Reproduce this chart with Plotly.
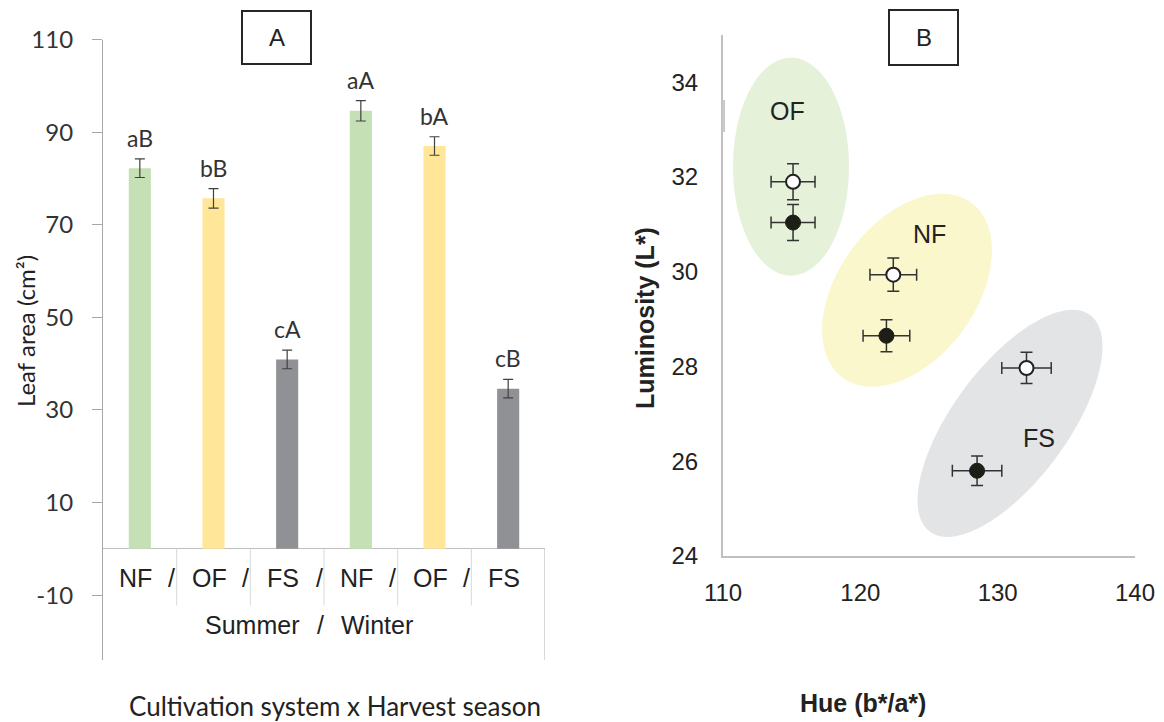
import numpy as np
import plotly.graph_objects as go

# ---------------- data ----------------
systems = ["NF", "OF", "FS", "NF", "OF", "FS"]
seasons = ["Summer", "Winter"]
leaf_area = [82.2, 75.7, 40.9, 94.6, 87.0, 34.6]
leaf_err = [2.0, 2.1, 2.0, 2.2, 2.0, 2.0]
letters = ["aB", "bB", "cA", "aA", "bA", "cB"]
bar_colors = ["#c5e0b4", "#ffe699", "#909195", "#c5e0b4", "#ffe699", "#909195"]

groups = ["OF", "NF", "FS"]
hue_open = [115.1, 122.4, 132.1]
lum_open = [31.90, 29.94, 27.97]
hue_open_err = [1.6, 1.7, 1.8]
lum_open_err = [0.38, 0.35, 0.33]
hue_filled = [115.1, 121.9, 128.5]
lum_filled = [31.04, 28.65, 25.80]
hue_filled_err = [1.6, 1.7, 1.8]
lum_filled_err = [0.38, 0.34, 0.31]

A_yticks = [-10, 10, 30, 50, 70, 90, 110]
B_xticks = [110, 120, 130, 140]
B_yticks = [24, 26, 28, 30, 32, 34]

# group ellipses: centre (data), semi-axes (px), rotation (deg)
ell_center = {"OF": (114.95, 32.22), "NF": (123.4, 29.61), "FS": (130.9, 26.8)}
ell_axes = {"OF": (109, 58), "NF": (108.6, 68.8), "FS": (134.7, 57.4)}
ell_angle = {"OF": 90, "NF": 53.6, "FS": 53.5}
ell_color = {"OF": "#e6f1da", "NF": "#fbf7cc", "FS": "#e3e4e6"}
grp_label_pos = {"OF": (114.7, 33.4), "NF": (125.05, 30.79), "FS": (133.0, 26.5)}

# ---------------- layout geometry ----------------
W, H = 1164, 722
def px(x):
    return x / W
def py(y):
    return 1 - y / H

A_x0, A_x1 = 103, 545
A_ytop, A_ybot = 39.5, 660
A_range = [-24.0, 110]
B_x0, B_x1 = 723, 1135
B_ytop, B_ybot = 35, 556
B_xrange = [110, 140]
B_yrange = [24, 35]

fontA = "Lato, 'Open Sans', sans-serif"
fontB = "'Liberation Sans', Arial, sans-serif"

fig = go.Figure()

xcat = list(range(len(systems)))
fig.add_trace(go.Bar(
    x=xcat, y=leaf_area, width=0.3,
    marker=dict(color=bar_colors, line=dict(width=0)),
    error_y=dict(type="data", array=leaf_err, color="#404040", thickness=1.2, width=5),
    xaxis="x", yaxis="y", showlegend=False,
))

fig.add_trace(go.Scatter(
    x=hue_filled, y=lum_filled, mode="markers",
    marker=dict(size=15, color="#1d1f17", line=dict(color="#1d1f17", width=1)),
    error_x=dict(type="data", array=hue_filled_err, color="#333333", thickness=1.5, width=6),
    error_y=dict(type="data", array=lum_filled_err, color="#333333", thickness=1.5, width=6),
    xaxis="x2", yaxis="y2", showlegend=False,
))
fig.add_trace(go.Scatter(
    x=hue_open, y=lum_open, mode="markers",
    marker=dict(size=14, color="white", line=dict(color="#222222", width=2)),
    error_x=dict(type="data", array=hue_open_err, color="#333333", thickness=1.5, width=6),
    error_y=dict(type="data", array=lum_open_err, color="#333333", thickness=1.5, width=6),
    xaxis="x2", yaxis="y2", showlegend=False,
))

shapes = []
annotations = []

def ann(**kw):
    kw.setdefault("showarrow", False)
    kw.setdefault("xanchor", "center")
    kw.setdefault("yanchor", "middle")
    annotations.append(kw)

# ellipses in panel B
xs = (B_x1 - B_x0) / (B_xrange[1] - B_xrange[0])
ys = (B_ybot - B_ytop) / (B_yrange[1] - B_yrange[0])
t = np.linspace(0, 2 * np.pi, 121)
for g in groups:
    cx, cy = ell_center[g]
    a, b = ell_axes[g]
    th = np.radians(ell_angle[g])
    ex = cx + (a * np.cos(th) * np.cos(t) - b * np.sin(th) * np.sin(t)) / xs
    ey = cy + (a * np.sin(th) * np.cos(t) + b * np.cos(th) * np.sin(t)) / ys
    path = "M " + " L ".join(f"{u:.4f},{v:.4f}" for u, v in zip(ex, ey)) + " Z"
    shapes.append(dict(type="path", path=path, xref="x2", yref="y2",
                       fillcolor=ell_color[g], line=dict(width=0), layer="below"))
    lx, ly = grp_label_pos[g]
    ann(x=lx, y=ly, xref="x2", yref="y2", text=g,
        font=dict(family=fontB, size=25, color="#222222"))

# category box in panel A
for i in range(len(systems) - 1):
    shapes.append(dict(type="line", xref="x", yref="y", x0=i + 0.5, x1=i + 0.5,
                       y0=0, y1=-12.2, line=dict(color="#d9d9d9", width=1)))
shapes.append(dict(type="line", xref="x", yref="y", x0=5.5, x1=5.5, y0=0, y1=A_range[0],
                   line=dict(color="#bfbfbf", width=1.2)))

# panel label boxes
shapes.append(dict(type="rect", xref="paper", yref="paper", x0=px(242), x1=px(311),
                   y0=py(64), y1=py(11), line=dict(color="#262626", width=2)))
shapes.append(dict(type="rect", xref="paper", yref="paper", x0=px(889), x1=px(958),
                   y0=py(65), y1=py(10), line=dict(color="#262626", width=2)))
ann(x=px(276.5), y=py(38), xref="paper", yref="paper", text="A",
    font=dict(family=fontB, size=24, color="#222222"))
ann(x=px(923.5), y=py(38), xref="paper", yref="paper", text="B",
    font=dict(family=fontB, size=24, color="#222222"))

# bar letters
for i, (v, e, l) in enumerate(zip(leaf_area, leaf_err, letters)):
    ann(x=i, y=v + e, xref="x", yref="y", text=l, yanchor="bottom", yshift=5,
        font=dict(family=fontA, size=23, color="#333333"))

# category names and separators
for i, s in enumerate(systems):
    ann(x=i, y=py(578), xref="x", yref="paper", text=s, xshift=-4,
        font=dict(family=fontB, size=25, color="#222222"))
for i in range(len(systems) - 1):
    ann(x=i + 0.5, y=py(578), xref="x", yref="paper", text="/", xshift=-5,
        font=dict(family=fontB, size=25, color="#222222"))
ann(x=px(252), y=py(625), xref="paper", yref="paper", text=seasons[0],
    font=dict(family=fontB, size=25, color="#222222"))
ann(x=px(320), y=py(625), xref="paper", yref="paper", text="/",
    font=dict(family=fontB, size=25, color="#222222"))
ann(x=px(377), y=py(625), xref="paper", yref="paper", text=seasons[1],
    font=dict(family=fontB, size=25, color="#222222"))

# axis titles
ann(x=px(26), y=py(331), xref="paper", yref="paper", text="Leaf area (cm²)", textangle=-90,
    font=dict(family=fontA, size=24, color="#222222"))
ann(x=px(335), y=py(706), xref="paper", yref="paper",
    text="Cultivation system x Harvest season",
    font=dict(family=fontA, size=26, color="#222222"))
ann(x=px(645), y=py(318), xref="paper", yref="paper", text="<b>Luminosity (L*)</b>",
    textangle=-90, font=dict(family=fontB, size=25, color="#222222"))
ann(x=px(863), y=py(703), xref="paper", yref="paper", text="<b>Hue (b*/a*)</b>",
    font=dict(family=fontB, size=25, color="#222222"))

# small artefact segment on B y-axis
shapes.append(dict(type="line", xref="paper", yref="paper", x0=px(723.5), x1=px(723.5),
                   y0=py(132), y1=py(100), line=dict(color="#c8c8c8", width=3)))

fig.update_layout(
    width=W, height=H,
    margin=dict(l=0, r=0, t=0, b=0, autoexpand=False),
    paper_bgcolor="white", plot_bgcolor="rgba(0,0,0,0)",
    showlegend=False,
    xaxis=dict(domain=[px(A_x0), px(A_x1)], range=[-0.5, 5.5], showticklabels=False,
               showgrid=False, zeroline=False, showline=False, ticks="", fixedrange=True,
               automargin=False),
    yaxis=dict(domain=[py(A_ybot), py(A_ytop)], range=A_range, tickvals=A_yticks,
               ticktext=[str(v) for v in A_yticks], showgrid=False, automargin=False,
               zeroline=True, zerolinecolor="#bfbfbf", zerolinewidth=1.2,
               showline=True, linecolor="#a6a6a6", linewidth=1.2,
               ticks="outside", ticklen=10, tickcolor="#a6a6a6", tickwidth=1.2,
               ticklabelstandoff=14,
               tickfont=dict(family=fontA, size=24, color="#333333")),
    xaxis2=dict(domain=[px(B_x0), px(B_x1)], range=B_xrange, tickvals=B_xticks,
                anchor="y2", showgrid=False, zeroline=False, showline=True, automargin=False,
                linecolor="#c0c0c0", linewidth=2, ticks="", ticklabelstandoff=14,
                tickfont=dict(family=fontB, size=24, color="#222222")),
    yaxis2=dict(domain=[py(B_ybot), py(B_ytop)], range=B_yrange, tickvals=B_yticks,
                anchor="x2", showgrid=False, zeroline=False, showline=True, automargin=False,
                linecolor="#c0c0c0", linewidth=2, ticks="", ticklabelstandoff=18,
                tickfont=dict(family=fontB, size=24, color="#222222")),
    shapes=shapes,
    annotations=annotations,
)

fig.write_html("out.html")
